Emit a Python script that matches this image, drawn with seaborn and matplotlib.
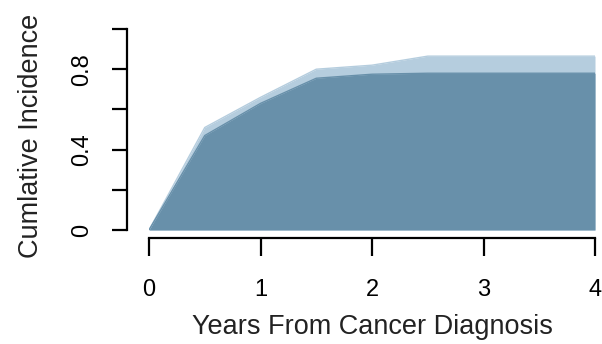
import matplotlib
matplotlib.use("Agg")
import matplotlib.pyplot as plt
import seaborn as sns
import pandas as pd

# years since diagnosis and the two cumulative incidence curves
years = [0, 0.5, 1, 1.5, 2, 2.5, 3, 3.5, 4]
inc_lower = [0, 0.47, 0.63, 0.755, 0.775, 0.78, 0.78, 0.78, 0.78]
inc_upper = [0, 0.51, 0.66, 0.80, 0.82, 0.865, 0.865, 0.865, 0.865]

x_ticks = [0, 1, 2, 3, 4]
y_ticks = [0, 0.2, 0.4, 0.6, 0.8, 1.0]
y_ticklabels = ["0", "", "0.4", "", "0.8", ""]

dark = "#6890AA"
light = "#B5CDDE"

sns.set_style("ticks")
plt.rcParams["font.family"] = ["Liberation Sans", "DejaVu Sans"]

df = pd.DataFrame({"years": years, "lower": inc_lower, "upper": inc_upper})

fig = plt.figure(figsize=(6.02, 3.44), dpi=100)
ax = fig.add_axes([149 / 602, 1 - 230 / 344, 446 / 602, 201 / 344])

ax.fill_between(df["years"], 0, df["upper"], color=light, linewidth=0)
ax.fill_between(df["years"], 0, df["lower"], color=dark, linewidth=0)
sns.lineplot(data=df, x="years", y="upper", ax=ax, color=light, linewidth=1)
sns.lineplot(data=df, x="years", y="lower", ax=ax, color=dark, linewidth=1)

ax.set_xlim(0, 4)
ax.set_ylim(0, 1)
ax.set_xticks(x_ticks)
ax.set_xticklabels([str(t) for t in x_ticks])
ax.set_yticks(y_ticks)
ax.set_yticklabels(y_ticklabels)

for side in ["top", "right"]:
    ax.spines[side].set_visible(False)
ax.spines["left"].set_position(("outward", 15.5))
ax.spines["bottom"].set_position(("outward", 6))
ax.spines["left"].set_bounds(0, 1)
ax.spines["bottom"].set_bounds(0, 4)
for side in ["left", "bottom"]:
    ax.spines[side].set_linewidth(1.6)
    ax.spines[side].set_color("black")

ax.tick_params(axis="y", length=11, width=1.6, pad=14, labelsize=17,
               colors="black", labelrotation=90)
ax.tick_params(axis="x", length=13, width=1.6, pad=16, labelsize=17, colors="black")
for lab in ax.get_yticklabels():
    lab.set_va("center")

ax.set_xlabel("Years From Cancer Diagnosis", fontsize=19.5, color="#222222")
ax.set_ylabel("Cumlative Incidence", fontsize=19.5, color="#222222")
ax.xaxis.set_label_coords(0.5, -84 / 201, transform=ax.transAxes)
ax.yaxis.set_label_coords(-105 / 446, 0.47, transform=ax.transAxes)

fig.savefig("out.png", dpi=100)
